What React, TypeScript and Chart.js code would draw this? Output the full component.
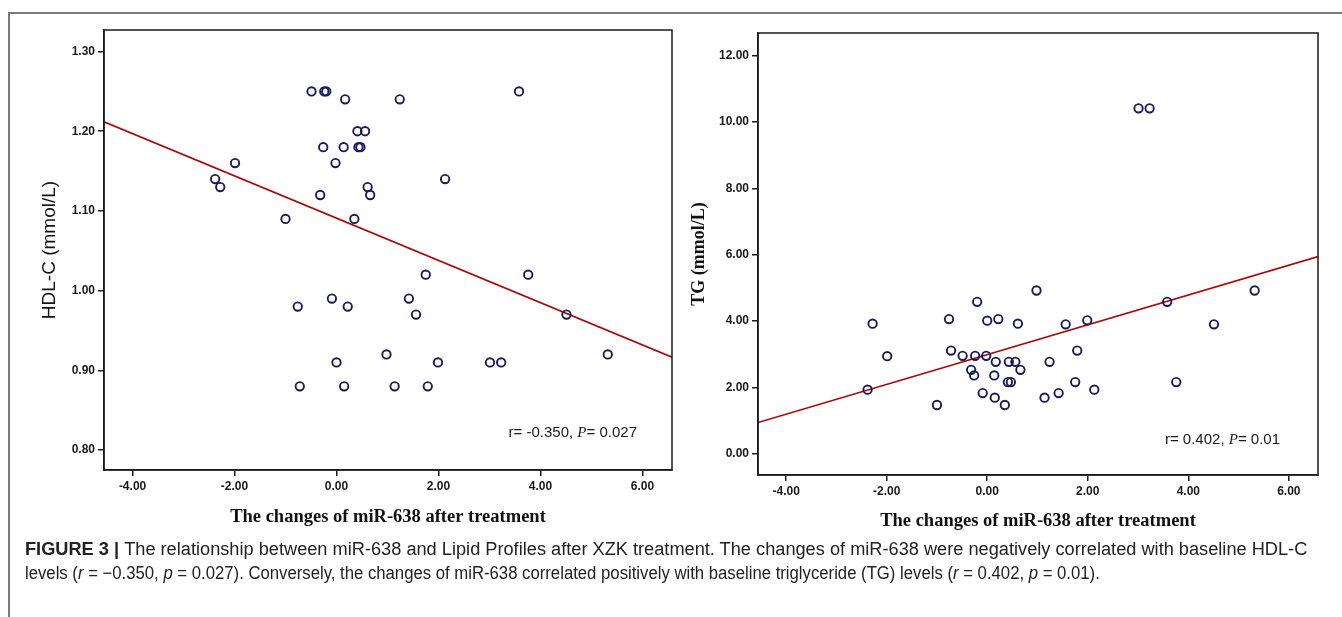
import React, { useEffect, useLayoutEffect, useRef } from "react";
import { Chart, registerables } from "chart.js";

Chart.register(...registerables);

// ---- data ----
const mirChange = [
  -2.38, -2.28, -1.99, -1.0, -0.76, -0.72, -0.49, -0.32, -0.26, -0.24,
  -0.2, -0.09, -0.02, 0.0, 0.14, 0.15, 0.17, 0.22, 0.35, 0.41,
  0.43, 0.47, 0.56, 0.61, 0.66, 0.98, 1.14, 1.24, 1.42, 1.56,
  1.75, 1.79, 1.99, 2.13, 3.01, 3.23, 3.58, 3.76, 4.51, 5.32,
];
const hdlC = [
  1.14, 1.13, 1.16, 1.09, 0.98, 0.88, 1.25, 1.12, 1.18, 1.25,
  1.25, 0.99, 1.16, 0.91, 1.18, 0.88, 1.24, 0.98, 1.09, 1.2,
  1.18, 1.18, 1.2, 1.13, 1.12, 0.92, 0.88, 1.24, 0.99, 0.97,
  1.02, 0.88, 0.91, 1.14, 0.91, 0.91, 1.25, 1.02, 0.97, 0.92,
];
const tgLevel = [
  1.93, 3.92, 2.94, 1.47, 4.06, 3.11, 2.95, 2.53, 2.36, 2.95,
  4.58, 1.83, 2.95, 4.01, 2.36, 1.69, 2.77, 4.06, 1.47, 2.16,
  2.77, 2.16, 2.77, 3.92, 2.53, 4.92, 1.69, 2.77, 1.83, 3.9,
  2.16, 3.11, 4.02, 1.93, 10.41, 10.41, 4.58, 2.16, 3.9, 4.92,
];
const xTickValues = [-4, -2, 0, 2, 4, 6];
const hdlTickValues = [0.8, 0.9, 1.0, 1.1, 1.2, 1.3];
const tgTickValues = [0, 2, 4, 6, 8, 10, 12];
const xRange = [-4.56, 6.58];
const hdlRange = [0.775, 1.327];
const tgRange = [-0.64, 12.68];
const hdlFit = { intercept: 1.091, slope: -0.0265 };
const tgFit = { intercept: 2.989, slope: 0.449 };
const xTitle = "The changes of miR-638 after treatment";
const hdlTitle = "HDL-C (mmol/L)";
const tgTitle = "TG (mmol/L)";
const hdlStat = { r: "r= -0.350, ", p: "P", rest: "= 0.027" };
const tgStat = { r: "r= 0.402, ", p: "P", rest: "= 0.01" };
const captionBold = "FIGURE 3 | ";
const captionLine1 =
  "The relationship between miR-638 and Lipid Profiles after XZK treatment. The changes of miR-638 were negatively correlated with baseline HDL-C";

// ---- plugins ----
const framePlugin = {
  id: "plotFrame",
  afterDraw(chart: any) {
    const { ctx, chartArea: a } = chart;
    ctx.save();
    ctx.strokeStyle = "#1a1a1a";
    ctx.lineWidth = 1.5;
    ctx.strokeRect(a.left, a.top, a.right - a.left, a.bottom - a.top);
    ctx.restore();
  },
};

const statPlugin = {
  id: "statText",
  afterDraw(chart: any, _args: any, opts: any) {
    const { ctx, chartArea: a } = chart;
    const normal = '15px "Liberation Sans", Arial, sans-serif';
    const ital = 'italic 15px "Liberation Serif", "Times New Roman", serif';
    ctx.save();
    ctx.fillStyle = "#1a1a1a";
    ctx.textBaseline = "middle";
    ctx.font = normal;
    const w1 = ctx.measureText(opts.r).width;
    const w3 = ctx.measureText(opts.rest).width;
    ctx.font = ital;
    const w2 = ctx.measureText(opts.p).width;
    let x = a.right - opts.dx - (w1 + w2 + w3);
    const y = a.bottom - opts.dy;
    ctx.font = normal;
    ctx.fillText(opts.r, x, y);
    x += w1;
    ctx.font = ital;
    ctx.fillText(opts.p, x, y);
    x += w2;
    ctx.font = normal;
    ctx.fillText(opts.rest, x, y);
    ctx.restore();
  },
};

type Cfg = {
  ys: number[];
  yRange: number[];
  yTicks: number[];
  fit: { intercept: number; slope: number };
  yTitle: string;
  yTitleFont: any;
  yTitlePad: number;
  yAxisWidth: number;
  xAxisHeight: number;
  xTitlePad: number;
  padTop: number;
  padRight: number;
  stat: any;
  statDx: number;
  statDy: number;
};

function buildConfig(c: Cfg): any {
  const tickFont = { family: '"Liberation Sans", Arial, sans-serif', size: 12, weight: "bold" };
  const grid = {
    display: true,
    drawOnChartArea: false,
    drawTicks: true,
    tickLength: 6,
    color: "#1a1a1a",
    lineWidth: 1.5,
  };
  const border = { display: true, color: "#1a1a1a", width: 1.5 };
  const fitY = (x: number) => c.fit.intercept + c.fit.slope * x;
  return {
    type: "scatter",
    data: {
      datasets: [
        {
          data: mirChange.map((x, i) => ({ x, y: c.ys[i] })),
          pointStyle: "circle",
          pointRadius: 4.2,
          pointHoverRadius: 4.2,
          pointBorderWidth: 1.9,
          borderColor: "#1a1c55",
          backgroundColor: "rgba(0,0,0,0)",
          showLine: false,
          order: 1,
        },
        {
          data: xRange.map((x) => ({ x, y: fitY(x) })),
          showLine: true,
          borderColor: "#a80a0a",
          borderWidth: 1.7,
          pointRadius: 0,
          pointHoverRadius: 0,
          fill: false,
          order: 2,
        },
      ],
    },
    options: {
      animation: false,
      responsive: false,
      maintainAspectRatio: false,
      devicePixelRatio: 1,
      events: [],
      layout: { padding: { top: c.padTop, right: c.padRight, left: 0, bottom: 0 } },
      plugins: {
        legend: { display: false },
        tooltip: { enabled: false },
        statText: { ...c.stat, dx: c.statDx, dy: c.statDy },
      },
      scales: {
        x: {
          type: "linear",
          min: xRange[0],
          max: xRange[1],
          afterBuildTicks: (s: any) => {
            s.ticks = xTickValues.map((v) => ({ value: v }));
          },
          afterFit: (s: any) => {
            s.height = c.xAxisHeight;
          },
          grid,
          border,
          ticks: {
            font: tickFont,
            color: "#1a1a1a",
            padding: 3,
            maxRotation: 0,
            autoSkip: false,
            callback: (v: any) => Number(v).toFixed(2),
          },
          title: {
            display: true,
            text: xTitle,
            color: "#111",
            font: { family: '"Liberation Serif", "Times New Roman", serif', size: 18.5, weight: "bold" },
            padding: { top: 0, bottom: c.xTitlePad },
          },
        },
        y: {
          type: "linear",
          min: c.yRange[0],
          max: c.yRange[1],
          afterBuildTicks: (s: any) => {
            s.ticks = c.yTicks.map((v) => ({ value: v }));
          },
          afterFit: (s: any) => {
            s.width = c.yAxisWidth;
          },
          grid,
          border,
          ticks: {
            font: tickFont,
            color: "#1a1a1a",
            padding: 3,
            autoSkip: false,
            callback: (v: any) => Number(v).toFixed(2),
          },
          title: {
            display: true,
            text: c.yTitle,
            color: "#111",
            font: c.yTitleFont,
            padding: { top: c.yTitlePad, bottom: 0 },
          },
        },
      },
    },
    plugins: [framePlugin, statPlugin],
  };
}

function ScatterPanel(props: { cfg: Cfg; left: number; width: number; height: number }) {
  const ref = useRef<HTMLCanvasElement | null>(null);
  useEffect(() => {
    if (!ref.current) return;
    const chart = new Chart(ref.current, buildConfig(props.cfg));
    return () => chart.destroy();
  }, []);
  return (
    <canvas
      ref={ref}
      width={props.width}
      height={props.height}
      style={{ position: "absolute", left: props.left, top: 0, width: props.width, height: props.height }}
    />
  );
}

function CaptionLine(props: { top: number; target: number; children: any }) {
  const ref = useRef<HTMLDivElement | null>(null);
  useLayoutEffect(() => {
    const el = ref.current;
    if (!el) return;
    el.style.transform = "none";
    const w = el.scrollWidth;
    if (w > 0) el.style.transform = `scaleX(${props.target / w})`;
  }, []);
  return (
    <div
      ref={ref}
      style={{
        position: "absolute",
        left: 25,
        top: props.top,
        whiteSpace: "nowrap",
        transformOrigin: "0 0",
        fontFamily: '"Liberation Sans", Arial, sans-serif',
        fontSize: 18,
        lineHeight: "20px",
        color: "#222",
      }}
    >
      {props.children}
    </div>
  );
}

export default function App() {
  const leftCfg: Cfg = {
    ys: hdlC,
    yRange: hdlRange,
    yTicks: hdlTickValues,
    fit: hdlFit,
    yTitle: hdlTitle,
    yTitleFont: { family: '"Liberation Sans", Arial, sans-serif', size: 19, weight: "normal" },
    yTitlePad: 38,
    yAxisWidth: 104,
    xAxisHeight: 70,
    xTitlePad: 12,
    padTop: 30,
    padRight: 18,
    stat: hdlStat,
    statDx: 35,
    statDy: 37,
  };
  const rightCfg: Cfg = {
    ys: tgLevel,
    yRange: tgRange,
    yTicks: tgTickValues,
    fit: tgFit,
    yTitle: tgTitle,
    yTitleFont: { family: '"Liberation Serif", "Times New Roman", serif', size: 18, weight: "bold" },
    yTitlePad: 9,
    yAxisWidth: 78,
    xAxisHeight: 65,
    xTitlePad: 8,
    padTop: 33,
    padRight: 24,
    stat: tgStat,
    statDx: 38,
    statDy: 35,
  };
  return (
    <div
      style={{
        position: "absolute",
        left: 0,
        top: 0,
        width: 1342,
        height: 617,
        overflow: "hidden",
        background: "#fff",
      }}
    >
      <div
        style={{
          position: "absolute",
          left: 8,
          top: 12,
          width: 1340,
          height: 610,
          borderTop: "2px solid #7a7a7a",
          borderLeft: "2px solid #7a7a7a",
        }}
      />
      <ScatterPanel cfg={leftCfg} left={0} width={690} height={540} />
      <ScatterPanel cfg={rightCfg} left={680} width={662} height={540} />
      <CaptionLine top={539} target={1282}>
        <b>{captionBold}</b>
        {captionLine1}
      </CaptionLine>
      <CaptionLine top={563} target={1075}>
        {"levels ("}
        <i>r</i>
        {" = \u22120.350, "}
        <i>p</i>
        {" = 0.027). Conversely, the changes of miR-638 correlated positively with baseline triglyceride (TG) levels ("}
        <i>r</i>
        {" = 0.402, "}
        <i>p</i>
        {" = 0.01)."}
      </CaptionLine>
    </div>
  );
}
